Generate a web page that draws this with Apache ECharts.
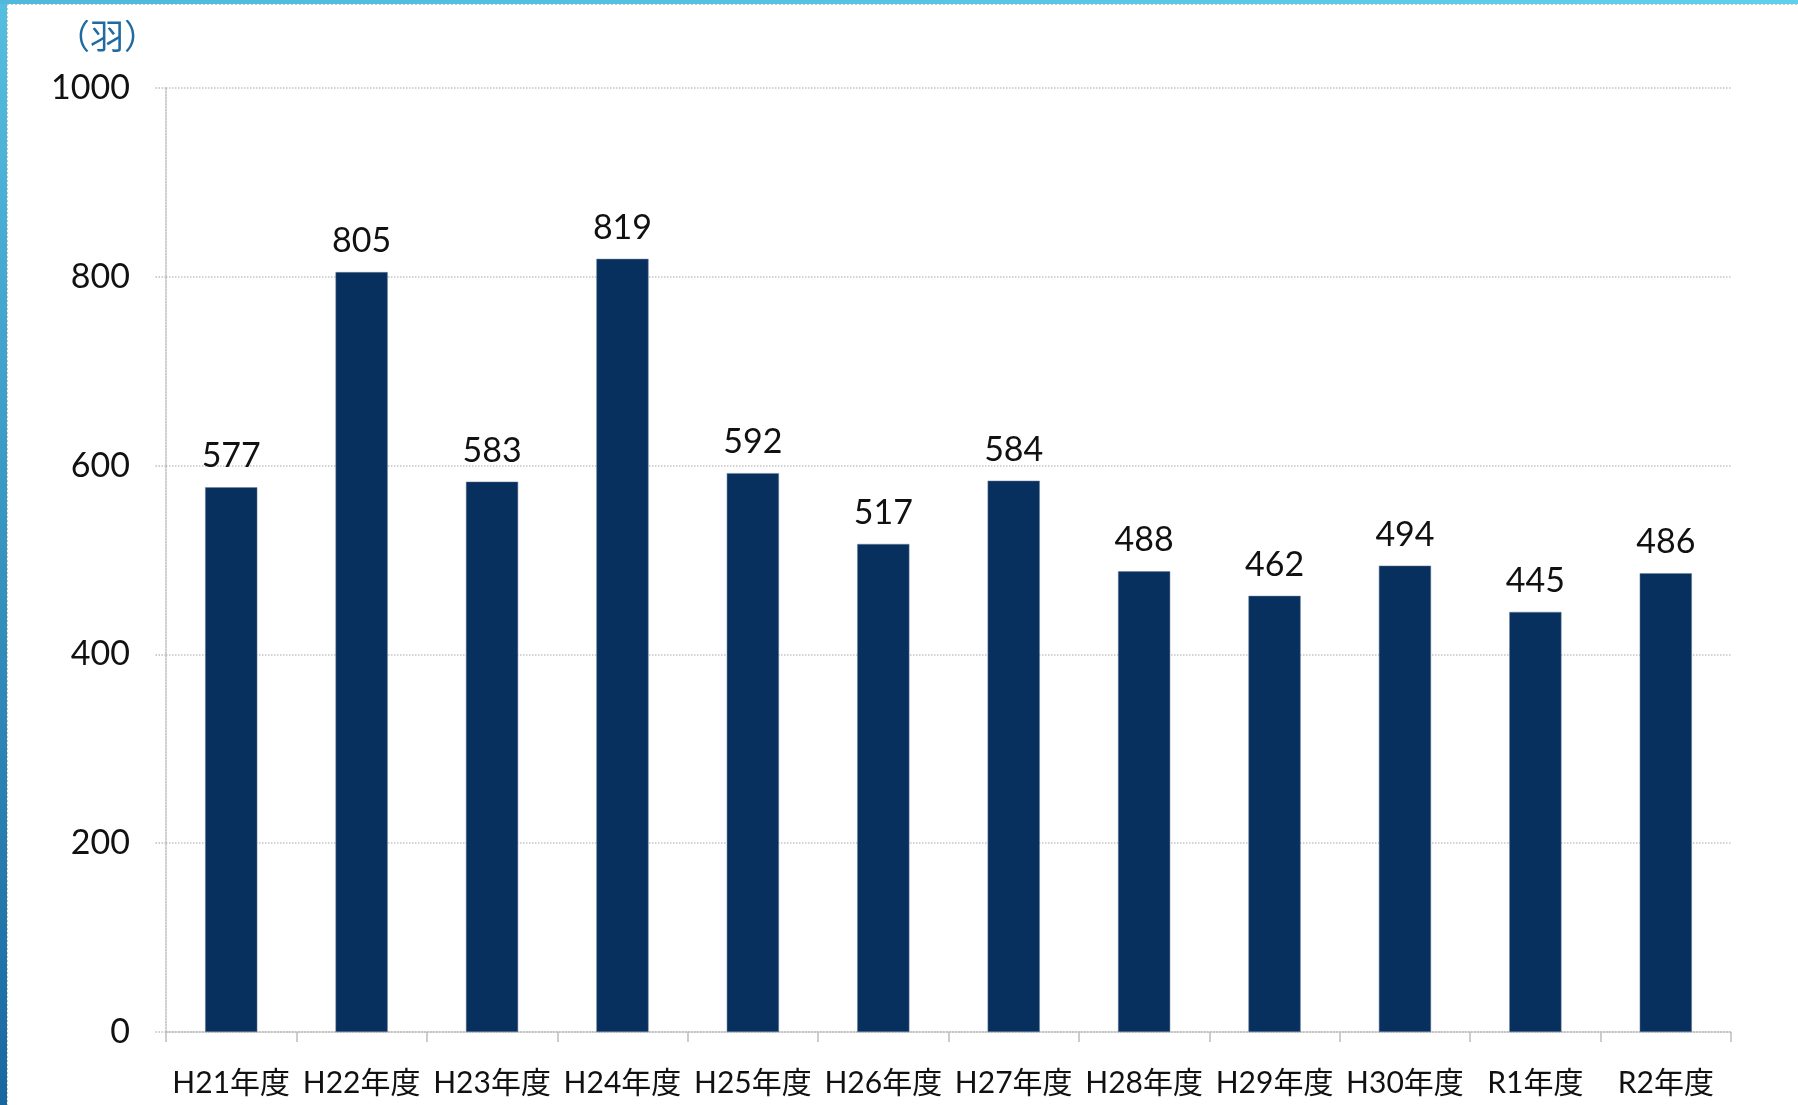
<!DOCTYPE html>
<html><head><meta charset="utf-8">
<script src="https://cdn.jsdelivr.net/npm/echarts@6/dist/echarts.min.js"></script>
<style>html,body{margin:0;padding:0;background:#fff}#c{width:1798px;height:1105px}</style>
</head><body><div id="c"></div>
<script>
const categories = ['H21年度','H22年度','H23年度','H24年度','H25年度','H26年度','H27年度','H28年度','H29年度','H30年度','R1年度','R2年度'];
const values = [577, 805, 583, 819, 592, 517, 584, 488, 462, 494, 445, 486];
const unitLabel = '（羽）';
const FONT = "'Lato','Noto Sans CJK JP',sans-serif";
const chart = echarts.init(document.getElementById('c'));
chart.setOption({
  animation: false,
  backgroundColor: '#fff',
  graphic: [
    {type:'rect', left:0, top:0, shape:{width:7, height:1105}, style:{fill:new echarts.graphic.LinearGradient(0,0,0,1,[{offset:0,color:'#55bfe0'},{offset:1,color:'#1868a0'}])}, z:10},
    {type:'rect', left:0, top:0, shape:{width:1798, height:4}, style:{fill:new echarts.graphic.LinearGradient(0,0,1,0,[{offset:0,color:'#4fb8dc'},{offset:1,color:'#5fd0ea'}])}, z:10},
    {type:'line', shape:{x1:7, y1:4.5, x2:1798, y2:4.5}, style:{stroke:'#c8c8c8', lineWidth:1, lineDash:[2,2]}},
    {type:'line', shape:{x1:7.5, y1:4, x2:7.5, y2:1105}, style:{stroke:'#c8c8c8', lineWidth:1, lineDash:[2,2]}},
    {type:'text', left:56, top:19, style:{text:unitLabel, fill:'#1f6aa0', font:"34px 'Noto Sans CJK JP'", letterSpacing:4}}
  ],
  grid: {left:166, right:67, top:88, bottom:73},
  xAxis: {
    type:'category', data:categories,
    axisLine:{show:true, lineStyle:{color:'#bdbdbd', type:'dotted', width:1.5}},
    axisTick:{show:true, length:10, lineStyle:{color:'#bdbdbd', width:1.5}},
    axisLabel:{color:'#111', fontSize:30, fontFamily:FONT, margin:36, interval:0}
  },
  yAxis: {
    type:'value', min:0, max:1000, interval:200,
    axisLine:{show:true, lineStyle:{color:'#bdbdbd', type:'dotted', width:1.5}},
    axisTick:{show:true, length:12, lineStyle:{color:'#bdbdbd', type:'dotted', width:1.5}},
    splitLine:{show:true, lineStyle:{color:'#c4c4c4', type:'dotted', width:1.5}},
    axisLabel:{color:'#111', fontSize:34, fontFamily:FONT, margin:36, formatter:function(v){return String(v);}}
  },
  series: [{
    type:'bar', data:values, barWidth:'40%',
    itemStyle:{color:'#08305f', borderColor:'#6b7f99', borderWidth:0.5},
    label:{show:true, position:'top', distance:14, color:'#111', fontSize:34, fontFamily:FONT}
  }]
});
</script></body></html>
